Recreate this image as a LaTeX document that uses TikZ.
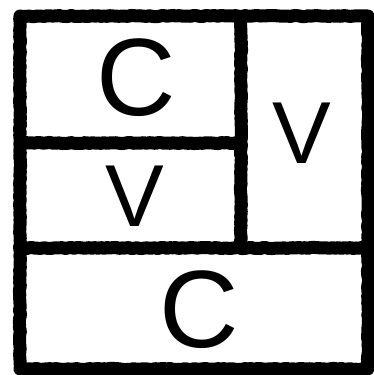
\documentclass[tikz,border=0pt]{standalone}
\usepackage{fontspec}
\setmainfont{Liberation Sans}
\usetikzlibrary{decorations.pathmorphing}
\begin{document}
\begin{tikzpicture}[x=1pt, y=-1pt, line join=round,
    wall/.style={line width=13pt, black, decorate, decoration={random steps, segment length=3pt, amplitude=0.6pt}},
    letter/.style={inner sep=0pt, text=black},
    bigletter/.style={letter, font=\fontsize{110}{110}\selectfont},
    smallletter/.style={letter, font=\fontsize{88}{88}\selectfont}]
  \useasboundingbox (0,0) rectangle (373,375);
  % 1. outer frame
  \draw[wall] (20,16) rectangle (368,369);
  % 2. inner walls
  \coordinate (topmid) at (241,16);
  \coordinate (midmid) at (241,248);
  \coordinate (midleft) at (20,143);
  \coordinate (midjoin) at (241,143);
  \coordinate (lowleft) at (20,248);
  \coordinate (lowright) at (368,248);
  \draw[wall] (topmid) -- (midmid);
  \draw[wall] (midleft) -- (midjoin);
  \draw[wall] (lowleft) -- (lowright);
  % 3. letters
  \node[bigletter] (cTop) at (136,78) {C};
  \node[smallletter] (vLeft) at (135,196) {V};
  \node[smallletter] (vRight) at (302,133) {V};
  \node[bigletter] (cLow) at (199,310) {C};
\end{tikzpicture}
\end{document}
